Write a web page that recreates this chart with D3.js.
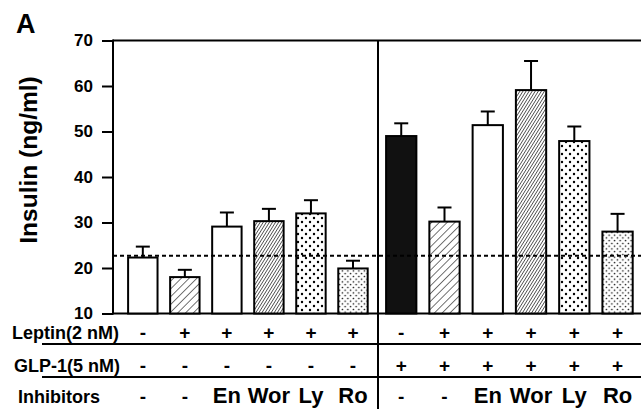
<!DOCTYPE html>
<html>
<head>
<meta charset="utf-8">
<script src="https://cdn.jsdelivr.net/npm/d3@7"></script>
<style>
  html, body { margin: 0; padding: 0; background: #fff; }
  text { font-family: "Liberation Sans", Arial, sans-serif; font-weight: bold; fill: #000; }
</style>
</head>
<body>
<svg id="chart" width="641" height="409"></svg>
<script>
// data
const leptin = ['-', '+', '+', '+', '+', '+', '-', '+', '+', '+', '+', '+'];
const glp1 = ['-', '-', '-', '-', '-', '-', '+', '+', '+', '+', '+', '+'];
const inhibitors = ['-', '-', 'En', 'Wor', 'Ly', 'Ro', '-', '-', 'En', 'Wor', 'Ly', 'Ro'];
const insulin = [22.3, 18.0, 29.1, 30.3, 32.0, 19.9, 49.0, 30.2, 51.4, 59.1, 47.9, 28.0];
const sem = [2.4, 1.6, 3.1, 2.7, 2.9, 1.7, 2.8, 3.1, 3.0, 6.4, 3.2, 3.9];
const basal = 22.7;
const yTicks = [10, 20, 30, 40, 50, 60, 70];

const svg = d3.select('#chart');
const plotTop = 40.5, plotBottom = 313.5, plotLeft = 113, plotRight = 641, divider = 378;

const y = d3.scaleLinear().domain([10, 70]).range([plotBottom, plotTop]);
const xLeft = d3.scaleBand().domain(d3.range(6)).range([121.8, 374]).paddingInner(0.3).paddingOuter(0.15);
const xRight = d3.scaleBand().domain(d3.range(6, 12)).range([379.6, 639.2]).paddingInner(0.3).paddingOuter(0.15);
const xPos = i => (i < 6 ? xLeft(i) : xRight(i));
const bw = i => (i < 6 ? xLeft.bandwidth() : xRight.bandwidth());
const xMid = i => xPos(i) + bw(i) / 2;

// fill patterns
const defs = svg.append('defs');
const hatch = (id, size, angle, sw) => {
  const p = defs.append('pattern').attr('id', id).attr('patternUnits', 'userSpaceOnUse')
    .attr('width', size).attr('height', size).attr('patternTransform', `rotate(${angle})`);
  p.append('rect').attr('width', size).attr('height', size).attr('fill', '#fff');
  p.append('line').attr('x1', 0).attr('y1', 0).attr('x2', 0).attr('y2', size)
    .attr('stroke', '#000').attr('stroke-width', sw);
};
hatch('wide', 5.5, 45, 1.1);
hatch('dense', 2.6, 32, 1.2);
const dots = (id, size, r) => {
  const p = defs.append('pattern').attr('id', id).attr('patternUnits', 'userSpaceOnUse')
    .attr('width', size).attr('height', size);
  p.append('rect').attr('width', size).attr('height', size).attr('fill', '#fff');
  [[size / 4, size / 4], [size * 3 / 4, size * 3 / 4]].forEach(([cx, cy]) =>
    p.append('circle').attr('cx', cx).attr('cy', cy).attr('r', r).attr('fill', '#000'));
};
dots('dots', 8, 1.2);
dots('fine', 5.5, 0.8);

const fillFor = i => {
  const k = i % 6;
  if (k === 0) return i < 6 ? '#fff' : '#111';
  return ['', 'url(#wide)', '#fff', 'url(#dense)', 'url(#dots)', 'url(#fine)'][k];
};

// panel label
svg.append('text').attr('x', 16).attr('y', 33).style('font-size', '27px').text('A');

// y axis label
svg.append('text').attr('transform', 'translate(37, 160) rotate(-90)')
  .attr('text-anchor', 'middle').style('font-size', '24.5px').text('Insulin (ng/ml)');

// y axis
const yAxis = svg.append('g').attr('transform', `translate(${plotLeft},0)`)
  .call(d3.axisLeft(y).tickValues(yTicks).tickSize(11).tickPadding(9).tickFormat(d3.format('d')));
yAxis.select('.domain').remove();
yAxis.selectAll('line').attr('stroke', '#000').attr('stroke-width', 2);
yAxis.selectAll('text').style('font-size', '17px').style('font-family', '"Liberation Sans", Arial, sans-serif');

// frame
const frame = svg.append('g').attr('stroke', '#000').attr('stroke-width', 2).attr('fill', 'none');
frame.append('line').attr('x1', plotLeft).attr('x2', plotLeft).attr('y1', plotTop - 1).attr('y2', plotBottom + 1);
frame.append('line').attr('x1', plotLeft).attr('x2', plotRight).attr('y1', plotTop).attr('y2', plotTop);
frame.append('line').attr('x1', plotLeft).attr('x2', plotRight).attr('y1', plotBottom).attr('y2', plotBottom);
frame.append('line').attr('x1', divider).attr('x2', divider).attr('y1', plotTop).attr('y2', 409);

// bars
const idx = d3.range(insulin.length);
svg.append('g').selectAll('rect').data(idx).join('rect')
  .attr('x', i => xPos(i)).attr('width', i => bw(i))
  .attr('y', i => y(insulin[i])).attr('height', i => plotBottom - y(insulin[i]))
  .attr('fill', fillFor).attr('stroke', '#000').attr('stroke-width', 2);

// error bars
const eb = svg.append('g').attr('stroke', '#000').attr('stroke-width', 2);
eb.selectAll('line.v').data(idx).join('line').attr('class', 'v')
  .attr('x1', xMid).attr('x2', xMid)
  .attr('y1', i => y(insulin[i])).attr('y2', i => y(insulin[i] + sem[i]));
eb.selectAll('line.c').data(idx).join('line').attr('class', 'c')
  .attr('x1', i => xMid(i) - 7).attr('x2', i => xMid(i) + 7)
  .attr('y1', i => y(insulin[i] + sem[i])).attr('y2', i => y(insulin[i] + sem[i]));

// basal dashed line
svg.append('line').attr('x1', plotLeft).attr('x2', plotRight).attr('y1', y(basal)).attr('y2', y(basal))
  .attr('stroke', '#000').attr('stroke-width', 2).attr('stroke-dasharray', '4,3');

// treatment table
const rows = [
  { label: 'Leptin(2 nM)', vals: leptin, base: 339, lx: 12 },
  { label: 'GLP-1(5 nM)', vals: glp1, base: 371.5, lx: 14 },
  { label: 'Inhibitors', vals: inhibitors, base: 403, lx: 18 }
];
rows.forEach(r => {
  svg.append('text').attr('x', r.lx).attr('y', r.base).style('font-size', '18px').text(r.label);
  svg.append('g').selectAll('text').data(idx).join('text')
    .attr('x', xMid).attr('y', r.base).attr('text-anchor', 'middle')
    .style('font-size', i => (r.vals[i].length > 1 ? '22px' : '19px'))
    .text(i => r.vals[i]);
});
svg.append('line').attr('x1', 42).attr('x2', plotRight).attr('y1', 344).attr('y2', 344)
  .attr('stroke', '#000').attr('stroke-width', 2);
svg.append('line').attr('x1', 42).attr('x2', plotRight).attr('y1', 377).attr('y2', 377)
  .attr('stroke', '#000').attr('stroke-width', 2);
</script>
</body>
</html>
